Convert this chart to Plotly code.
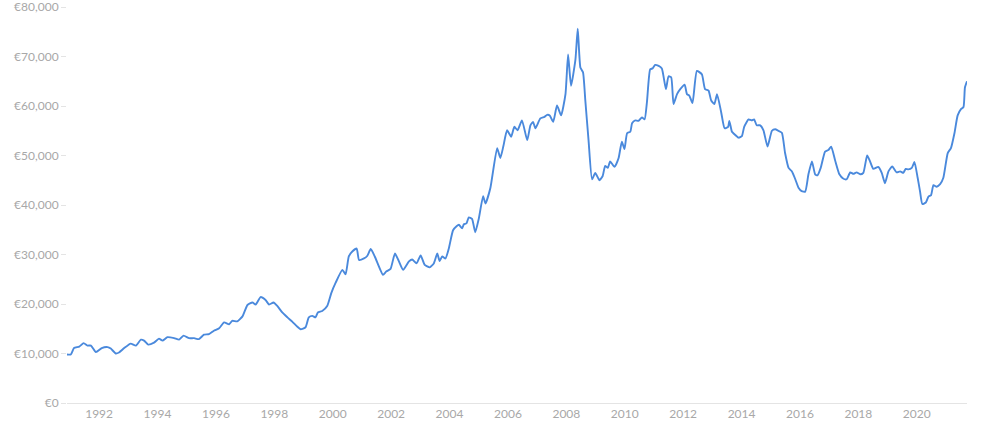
import plotly.graph_objects as go

# Values (decimal year, EUR)
years = [
    1990.90, 1991.03, 1991.14, 1991.32, 1991.47, 1991.60, 1991.72, 1991.89,
    1992.09, 1992.29, 1992.40, 1992.57, 1992.68, 1992.86, 1993.08, 1993.26,
    1993.43, 1993.54, 1993.68, 1993.88, 1994.05, 1994.17, 1994.34, 1994.57,
    1994.74, 1994.89, 1995.08, 1995.25, 1995.42, 1995.59, 1995.76, 1995.93,
    1996.11, 1996.28, 1996.45, 1996.56, 1996.73, 1996.91, 1997.08, 1997.25,
    1997.36, 1997.53, 1997.70, 1997.82, 1997.97, 1998.10, 1998.27, 1998.45,
    1998.62, 1998.79, 1998.90, 1999.07, 1999.18, 1999.30, 1999.41, 1999.49,
    1999.64, 1999.81, 1999.95, 2000.10, 2000.33, 2000.44, 2000.55, 2000.67,
    2000.82, 2000.90, 2001.07, 2001.18, 2001.30, 2001.44, 2001.58, 2001.72,
    2001.84, 2001.98, 2002.13, 2002.26, 2002.41, 2002.61, 2002.72, 2002.87,
    2003.01, 2003.15, 2003.32, 2003.46, 2003.58, 2003.66, 2003.75, 2003.86,
    2003.97, 2004.12, 2004.24, 2004.32, 2004.43, 2004.49, 2004.58, 2004.66,
    2004.77, 2004.88, 2005.00, 2005.15, 2005.23, 2005.40, 2005.63, 2005.74,
    2005.84, 2005.97, 2006.11, 2006.22, 2006.33, 2006.48, 2006.66, 2006.77,
    2006.86, 2006.94, 2007.11, 2007.25, 2007.34, 2007.43, 2007.55, 2007.68,
    2007.82, 2007.97, 2008.06, 2008.16, 2008.31, 2008.39, 2008.48, 2008.57,
    2008.65, 2008.76, 2008.88, 2008.99, 2009.13, 2009.24, 2009.33, 2009.42,
    2009.50, 2009.65, 2009.79, 2009.90, 2009.99, 2010.08, 2010.19, 2010.25,
    2010.36, 2010.47, 2010.59, 2010.68, 2010.76, 2010.87, 2010.95, 2011.04,
    2011.16, 2011.27, 2011.41, 2011.50, 2011.59, 2011.67, 2011.79, 2011.90,
    2012.05, 2012.13, 2012.21, 2012.32, 2012.47, 2012.64, 2012.75, 2012.87,
    2012.96, 2013.07, 2013.16, 2013.30, 2013.42, 2013.54, 2013.58, 2013.67,
    2013.72, 2013.90, 2014.01, 2014.09, 2014.24, 2014.35, 2014.43, 2014.52,
    2014.64, 2014.75, 2014.89, 2015.04, 2015.15, 2015.26, 2015.38, 2015.49,
    2015.61, 2015.72, 2015.84, 2015.95, 2016.06, 2016.18, 2016.29, 2016.41,
    2016.52, 2016.60, 2016.71, 2016.86, 2016.97, 2017.07, 2017.20, 2017.35,
    2017.49, 2017.60, 2017.72, 2017.83, 2017.94, 2018.06, 2018.17, 2018.30,
    2018.40, 2018.51, 2018.68, 2018.80, 2018.91, 2019.03, 2019.16, 2019.31,
    2019.43, 2019.54, 2019.62, 2019.71, 2019.83, 2019.92, 2020.03, 2020.11,
    2020.19, 2020.31, 2020.40, 2020.49, 2020.57, 2020.68, 2020.80, 2020.91,
    2021.06, 2021.17, 2021.29, 2021.40, 2021.52, 2021.60, 2021.65, 2021.72,
]

prices = [
    9800, 9800, 11100, 11400, 12100, 11600, 11600, 10300,
    11100, 11300, 11000, 10000, 10200, 11100, 12000, 11600,
    12800, 12600, 11800, 12200, 13000, 12600, 13300, 13100,
    12800, 13600, 13100, 13100, 12900, 13800, 13900, 14600,
    15100, 16300, 15900, 16600, 16500, 17500, 19800, 20300,
    19900, 21400, 20800, 19900, 20300, 19600, 18300, 17300,
    16400, 15400, 14900, 15300, 17300, 17600, 17300, 18300,
    18600, 19600, 22200, 24300, 26900, 26000, 29600, 30600,
    31200, 28900, 29200, 29700, 31100, 29600, 27600, 25900,
    26600, 27100, 30200, 28700, 26900, 28600, 29000, 28200,
    29800, 27900, 27400, 28200, 30200, 28700, 29600, 29200,
    31100, 34900, 35700, 36000, 35300, 36100, 36300, 37500,
    37200, 34500, 37200, 41800, 40300, 43500, 51500, 49500,
    51800, 55100, 53800, 55800, 55100, 57100, 53100, 56100,
    56800, 55500, 57500, 57800, 58200, 58100, 56800, 60100,
    58100, 62400, 70400, 64100, 69300, 75600, 67800, 66800,
    61100, 53100, 45200, 46500, 45000, 45800, 47900, 47500,
    48800, 47700, 49500, 52800, 51300, 54500, 54800, 56500,
    57100, 57000, 57700, 57300, 60800, 67400, 67600, 68300,
    68100, 67600, 63400, 66000, 65800, 60400, 62400, 63400,
    64300, 62400, 62100, 60600, 67100, 66400, 63400, 63100,
    61100, 60400, 62400, 58800, 55500, 55800, 57000, 54800,
    54500, 53600, 53900, 55800, 57300, 57100, 57300, 56100,
    56100, 55100, 51800, 55000, 55300, 55000, 54600, 50500,
    47500, 46800, 45200, 43500, 42800, 42700, 46200, 48800,
    46200, 46000, 47500, 50800, 51100, 51800, 49100, 46200,
    45300, 45200, 46600, 46300, 46600, 46200, 46500, 50000,
    48800, 47300, 47700, 46500, 44400, 46800, 47800, 46600,
    46800, 46500, 47300, 47200, 47500, 48700, 45500, 42800,
    40200, 40500, 41700, 42000, 44000, 43700, 44200, 45500,
    50500, 51500, 54500, 58100, 59400, 59800, 63800, 65000,
]

x_ticks = [1992, 1994, 1996, 1998, 2000, 2002, 2004, 2006, 2008, 2010,
           2012, 2014, 2016, 2018, 2020]
y_ticks = [0, 10000, 20000, 30000, 40000, 50000, 60000, 70000, 80000]
y_labels = [f"€{v:,}" for v in y_ticks]

LINE_BLUE = "#4a89dc"
TICK_GREY = "#a8a8a8"
AXIS_GREY = "#e4e4e4"
FONT = "Lato, 'Open Sans', sans-serif"

fig = go.Figure()

fig.add_trace(
    go.Scatter(
        x=years,
        y=prices,
        mode="lines",
        line=dict(color=LINE_BLUE, width=1.9, shape="spline", smoothing=0.5),
        hovertemplate="%{x:.2f}<br>€%{y:,.0f}<extra></extra>",
    )
)

fig.update_layout(
    width=1000,
    height=431,
    paper_bgcolor="white",
    plot_bgcolor="white",
    showlegend=False,
    margin=dict(l=67, r=33, t=7, b=28),
    font=dict(family=FONT, size=12, color=TICK_GREY),
    xaxis=dict(
        range=[1990.9, 2021.72],
        tickvals=x_ticks,
        ticktext=[str(y) for y in x_ticks],
        showgrid=False,
        zeroline=False,
        showline=True,
        linecolor=AXIS_GREY,
        linewidth=1,
        ticks="",
        automargin=False,
        tickfont=dict(size=12, color=TICK_GREY),
    ),
    yaxis=dict(
        range=[0, 80000],
        tickvals=y_ticks,
        ticktext=y_labels,
        showgrid=False,
        zeroline=False,
        showline=False,
        ticks="outside",
        ticklen=5,
        tickcolor=AXIS_GREY,
        automargin=False,
        ticklabeloverflow="allow",
        tickfont=dict(size=12, color=TICK_GREY),
    ),
)

# drop the default 8px page margin so the figure sits flush in the window
fig.write_html(
    "out.html",
    config={"displayModeBar": False},
    post_script="document.body.style.margin='0';",
)
